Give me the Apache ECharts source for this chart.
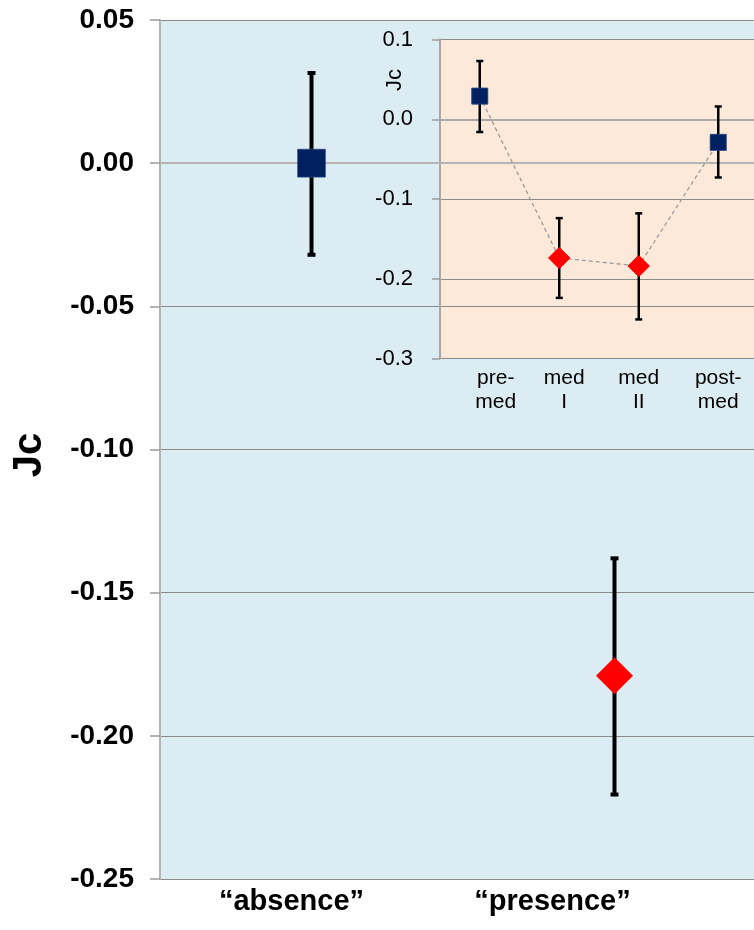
<!DOCTYPE html>
<html>
<head>
<meta charset="utf-8">
<script src="https://cdn.jsdelivr.net/npm/echarts@6/dist/echarts.min.js"></script>
<style>
html,body{margin:0;padding:0;background:#fff;}
#chart{width:754px;height:930px;}
</style>
</head>
<body>
<div id="chart"></div>
<script>
// ---- data ----
const mainCategories = ['“absence”', '“presence”'];
const mainMeans = [0.000, -0.179];
const mainLower = [-0.032, -0.2205];
const mainUpper = [0.0315, -0.138];
const mainGroups = ['absent', 'present'];
const mainTicks = [0.05, 0.00, -0.05, -0.10, -0.15, -0.20, -0.25];

const insetCategories = ['pre-\nmed', 'med\nI', 'med\nII', 'post-\nmed'];
const insetMeans = [0.029, -0.174, -0.184, -0.029];
const insetLower = [-0.016, -0.224, -0.251, -0.073];
const insetUpper = [0.073, -0.124, -0.118, 0.016];
const insetGroups = ['absent', 'present', 'present', 'absent'];
const insetTicks = [0.1, 0.0, -0.1, -0.2, -0.3];

// ---- styles ----
const NAVY = '#002060', RED = '#ff0000';
const FONT = '"Liberation Sans", Arial, sans-serif';

function errRender(capHalf, lw) {
  return function (params, api) {
    const i = api.value(0);
    const top = api.coord([i, api.value(2)]);
    const bot = api.coord([i, api.value(1)]);
    const st = { stroke: '#000', lineWidth: lw };
    return {
      type: 'group',
      children: [
        { type: 'line', shape: { x1: top[0], y1: top[1], x2: bot[0], y2: bot[1] }, style: st },
        { type: 'line', shape: { x1: top[0] - capHalf, y1: top[1], x2: top[0] + capHalf, y2: top[1] }, style: st },
        { type: 'line', shape: { x1: bot[0] - capHalf, y1: bot[1], x2: bot[0] + capHalf, y2: bot[1] }, style: st }
      ]
    };
  };
}

function markerItem(v, g, sq, dia) {
  return g === 'absent'
    ? { value: v, symbol: 'rect', symbolSize: sq, itemStyle: { color: NAVY, opacity: 1, borderColor: '#3a5a90', borderWidth: 0.6 } }
    : { value: v, symbol: 'diamond', symbolSize: dia, itemStyle: { color: RED, opacity: 1 } };
}

const mainErrData = mainCategories.map((c, i) => [i, mainLower[i], mainUpper[i]]);
const insetErrData = insetCategories.map((c, i) => [i, insetLower[i], insetUpper[i]]);

const mainCatData = mainCategories.map((c, i) => ({
  value: c,
  textStyle: { padding: i === 0 ? [0, 40, 0, 0] : [0, 124, 0, 0] }
}));
const insetCatData = insetCategories.map((c, i) => ({
  value: c,
  textStyle: { padding: i === 0 ? [0, 0, 0, 32] : (i === 1 ? [0, 0, 0, 10] : [0, 0, 0, 0]) }
}));

const chart = echarts.init(document.getElementById('chart'), null, { renderer: 'canvas' });
const option = {
  animation: false,
  backgroundColor: '#ffffff',
  textStyle: { fontFamily: FONT },
  grid: [
    { left: 160, top: 20, width: 606, height: 859, show: true, backgroundColor: '#dbedf3', borderWidth: 0, containLabel: false, outerBoundsMode: 'none' },
    { left: 440, top: 39.5, width: 318, height: 319, show: true, backgroundColor: '#fde9da', borderWidth: 0, containLabel: false, outerBoundsMode: 'none' }
  ],
  xAxis: [
    {
      type: 'category', gridIndex: 0, data: mainCatData, boundaryGap: true,
      axisLine: { show: true, lineStyle: { color: '#b4b4b4', width: 2 } },
      axisTick: { show: false },
      axisLabel: { color: '#000', fontSize: 29, fontWeight: 'bold', fontFamily: FONT, margin: 8, interval: 0 },
      splitLine: { show: false }
    },
    {
      type: 'category', gridIndex: 1, data: insetCatData, boundaryGap: true,
      axisLine: { show: true, lineStyle: { color: '#a8a8a8', width: 2 } },
      axisTick: { show: false },
      axisLabel: { color: '#000', fontSize: 21, fontFamily: FONT, margin: 8, lineHeight: 24, interval: 0 },
      splitLine: { show: false }
    }
  ],
  yAxis: [
    {
      type: 'value', gridIndex: 0, min: -0.25, max: 0.05, interval: 0.05,
      axisLine: { show: true, lineStyle: { color: '#b4b4b4', width: 2 } },
      axisTick: { show: true, length: 10, lineStyle: { color: '#9a9a9a', width: 1.5 } },
      axisLabel: { color: '#000', fontSize: 28, fontWeight: 'bold', fontFamily: FONT, margin: 26,
        formatter: v => { const t = mainTicks.find(x => Math.abs(x - v) < 1e-9); return (t === undefined ? v : t).toFixed(2); } },
      splitLine: { show: true, lineStyle: { color: '#8a8a8a', width: 1.2 } }
    },
    {
      type: 'value', gridIndex: 1, min: -0.3, max: 0.1, interval: 0.1,
      axisLine: { show: true, lineStyle: { color: '#a8a8a8', width: 2 } },
      axisTick: { show: true, length: 8, lineStyle: { color: '#9a9a9a', width: 1.5 } },
      axisLabel: { color: '#000', fontSize: 22, fontFamily: FONT, margin: 27,
        formatter: v => { const t = insetTicks.find(x => Math.abs(x - v) < 1e-9); return (t === undefined ? v : t).toFixed(1); } },
      splitLine: { show: true, lineStyle: { color: '#8a8a8a', width: 1.2 } }
    }
  ],
  graphic: [
    { type: 'text', x: 30, y: 455, rotation: Math.PI / 2, z: 100,
      style: { text: 'Jc', font: 'bold 40px ' + FONT, fill: '#000', textAlign: 'center', textVerticalAlign: 'middle' } },
    { type: 'text', x: 395, y: 80, rotation: Math.PI / 2, z: 100,
      style: { text: 'Jc', font: '22px ' + FONT, fill: '#000', textAlign: 'center', textVerticalAlign: 'middle' } }
  ],
  series: [
    { type: 'custom', xAxisIndex: 0, yAxisIndex: 0, data: mainErrData, renderItem: errRender(4, 4), z: 2, encode: { x: 0, y: [1, 2] } },
    { type: 'scatter', xAxisIndex: 0, yAxisIndex: 0, z: 3,
      data: mainMeans.map((v, i) => markerItem([i, v], mainGroups[i], 28, 37)) },
    { type: 'line', xAxisIndex: 1, yAxisIndex: 1, z: 4, showAllSymbol: true,
      lineStyle: { color: '#9a9a9a', width: 1.3, type: [4, 3] },
      data: insetMeans.map((v, i) => markerItem(v, insetGroups[i], 16, 22)) },
    { type: 'custom', xAxisIndex: 1, yAxisIndex: 1, data: insetErrData, renderItem: errRender(3.5, 2.5), z: 5, encode: { x: 0, y: [1, 2] } },
    { type: 'scatter', xAxisIndex: 1, yAxisIndex: 1, z: 6,
      data: insetMeans.map((v, i) => markerItem([i, v], insetGroups[i], 16, 22)) }
  ]
};
chart.setOption(option);
</script>
</body>
</html>
